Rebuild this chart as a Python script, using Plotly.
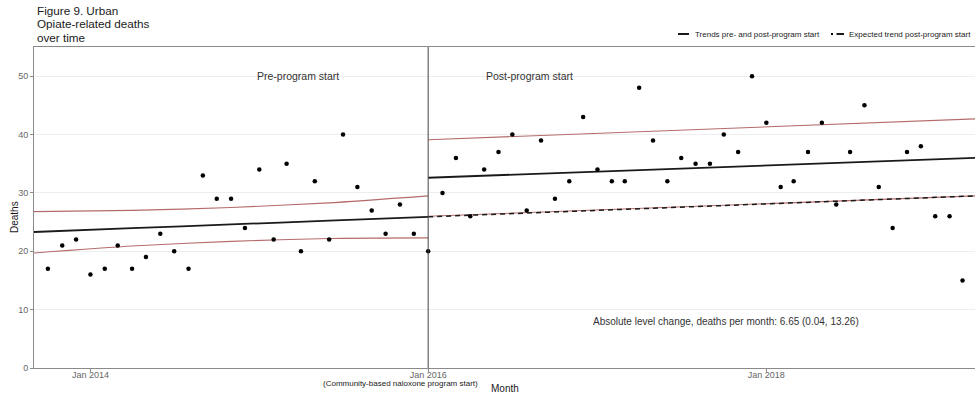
import pandas as pd
import plotly.graph_objects as go

# ---------------- data ----------------
months = pd.date_range("2013-10-01", "2019-03-01", freq="MS")
deaths = [17, 21, 22, 16, 17, 21, 17, 19, 23, 20, 17, 33, 29, 29, 24,
          34, 22, 35, 20, 32, 22, 40, 31, 27, 23, 28, 23,
          20,
          30, 36, 26, 34, 37, 40, 27, 39, 29, 32, 43,
          34, 32, 32, 48, 39, 32, 36, 35, 35, 40, 37, 50,
          42, 31, 32, 37, 42, 28, 37, 45, 31, 24, 37, 38,
          26, 26, 15]

pre_dates = ["2013-09-01", "2014-04-01", "2014-11-01", "2015-06-01", "2016-01-01"]
pre_trend = [23.3, 23.95, 24.6, 25.25, 25.9]
pre_upper = [26.8, 27.0, 27.5, 28.3, 29.5]
pre_lower = [19.7, 20.9, 21.7, 22.2, 22.3]

post_dates = ["2016-01-01", "2019-04-01"]
post_trend = [32.6, 36.0]
post_upper = [39.1, 42.7]
post_lower = [26.0, 29.5]
expected_trend = [25.9, 29.5]

program_start = "2016-01-01"
x_range = ["2013-09-01", "2019-03-28"]
y_range = [0, 55]
y_ticks = [0, 10, 20, 30, 40, 50]
x_ticks = ["2014-01-01", "2016-01-01", "2018-01-01"]
x_ticklabels = ["Jan 2014", "Jan 2016", "Jan 2018"]

title_lines = ["Figure 9. Urban", "Opiate-related deaths", "over time"]
legend_labels = ["Trends pre- and post-program start", "Expected trend post-program start"]
level_change_text = "Absolute level change, deaths per month: 6.65 (0.04, 13.26)"

# ---------------- figure ----------------
FONT = "Liberation Sans, Arial, sans-serif"
RED = "#b56b6b"
fig = go.Figure()

def line(x, y, color, width, dash="solid"):
    fig.add_trace(go.Scatter(x=x, y=y, mode="lines", line=dict(color=color, width=width, dash=dash,
                                                               shape="spline", smoothing=0.6),
                             hoverinfo="skip", showlegend=False))

line(pre_dates, pre_upper, RED, 1.1)
line(pre_dates, pre_lower, RED, 1.1)
line(post_dates, post_upper, RED, 1.1)
line(post_dates, post_lower, RED, 1.1)
line(pre_dates, pre_trend, "#1a1a1a", 1.8)
line(post_dates, post_trend, "#1a1a1a", 1.8)
line(post_dates, expected_trend, "#1a1a1a", 1.5, dash="5px,4px")

fig.add_trace(go.Scatter(x=months, y=deaths, mode="markers",
                         marker=dict(color="black", size=4.5), showlegend=False))

fig.add_shape(type="line", xref="x", yref="paper", x0=program_start, x1=program_start,
              y0=0, y1=1, line=dict(color="#444444", width=1))

ann_font = dict(family=FONT, size=10.5, color="#333333")
fig.add_annotation(x="2015-03-25", y=50, text="Pre-program start", showarrow=False, font=ann_font)
fig.add_annotation(x="2016-08-08", y=50, text="Post-program start", showarrow=False, font=ann_font)
fig.add_annotation(x="2017-10-05", y=7.9, text=level_change_text, showarrow=False,
                   font=dict(family=FONT, size=10, color="#333333"))

W, L, T, B = 941, 34, 47, 368
def px(p):
    return (p - L) / W
def py(p):
    return (B - p) / (B - T)

def paper_text(x, y, text, size, xanchor="center", angle=0, color="#1a1a1a"):
    fig.add_annotation(xref="paper", yref="paper", x=px(x), y=py(y), xanchor=xanchor,
                       yanchor="middle", text=text, showarrow=False, textangle=angle,
                       font=dict(family=FONT, size=size, color=color))

for txt, yp in zip(title_lines, [10, 23.5, 37]):
    paper_text(35, yp, txt, 11.7, xanchor="left")

# axis titles and sub-label
paper_text(505, 388, "Month", 10)
paper_text(14, 217, "Deaths", 10, angle=-90)
paper_text(400, 383.5, "(Community-based naloxone program start)", 8)

# manual legend
ly = py(34)
for x0, x1 in [(678, 689), (831, 833), (836.5, 844)]:
    fig.add_shape(type="line", xref="paper", yref="paper", x0=px(x0), x1=px(x1), y0=ly, y1=ly,
                  line=dict(color="black", width=1.8))
paper_text(693, 34, legend_labels[0], 8, xanchor="left")
paper_text(847, 34, legend_labels[1], 8, xanchor="left")

fig.update_layout(
    width=975, height=398,
    margin=dict(l=34, r=0, t=47, b=30),
    paper_bgcolor="white", plot_bgcolor="white",
    showlegend=False,
    font=dict(family=FONT),
    xaxis=dict(range=x_range, type="date", tickmode="array", tickvals=x_ticks,
               ticktext=x_ticklabels, showgrid=False, zeroline=False,
               showline=True, mirror=True, linecolor="#8a8a8a", linewidth=1,
               ticks="outside", ticklen=3, tickcolor="#8a8a8a", ticklabelstandoff=-5,
               tickfont=dict(family=FONT, size=9, color="#666666")),
    yaxis=dict(range=y_range, tickvals=y_ticks, showgrid=True, gridcolor="#eeeeee", gridwidth=1,
               zeroline=False, showline=True, linecolor="#8a8a8a", linewidth=1,
               ticks="outside", ticklen=3, tickcolor="#8a8a8a",
               tickfont=dict(family=FONT, size=9, color="#666666")),
)

fig.write_html("out.html")
